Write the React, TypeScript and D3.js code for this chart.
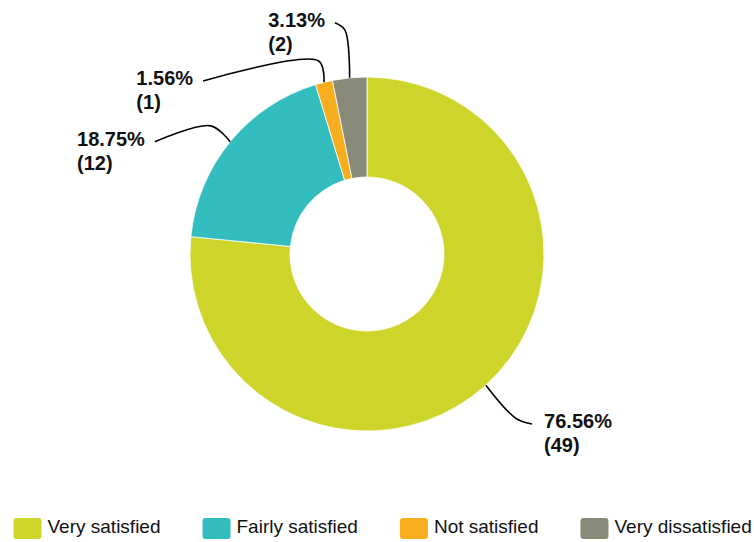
import { useEffect, useRef } from 'react';
import * as d3 from 'd3';

const categories = ['Very satisfied', 'Fairly satisfied', 'Not satisfied', 'Very dissatisfied'];
const counts = [49, 12, 1, 2];
const pctLabels = ['76.56%', '18.75%', '1.56%', '3.13%'];
const colors = ['#CDD52A', '#33BDBF', '#F6AE1F', '#8A8A79'];

// leader line layout: radial extension past the ring, then offset to the label end
const leaderExt = [45, 25, 22, 48];
const leaderEnd: [number, number][] = [
  [16, 5.5],
  [-56, 16],
  [-115.6, 20],
  [-10, -7.4],
];

const W = 754;
const H = 542;
const cx = 367;
const cy = 254;
const outerR = 177;
const innerR = 77;
const labelFont = "'Liberation Sans', Arial, sans-serif";

export default function App() {
  const svgRef = useRef<SVGSVGElement>(null);

  useEffect(() => {
    document.body.style.margin = '0';
    if (!svgRef.current) return;
    const svg = d3.select(svgRef.current);
    svg.selectAll('*').remove();

    const pie = d3.pie<number>().sort(null).value((d) => d);
    const arcs = pie(counts);
    const arc = d3.arc<d3.PieArcDatum<number>>().innerRadius(innerR).outerRadius(outerR);

    const g = svg.append('g').attr('transform', `translate(${cx},${cy})`);

    g.selectAll('path.slice')
      .data(arcs)
      .join('path')
      .attr('class', 'slice')
      .attr('d', arc)
      .attr('fill', (_, i) => colors[i])
      .attr('stroke', '#fff')
      .attr('stroke-width', 0.8);

    const polar = (a: number, r: number): [number, number] => [
      Math.sin(a) * r,
      -Math.cos(a) * r,
    ];

    const leader = d3.line().curve(d3.curveCatmullRom.alpha(0.5));

    arcs.forEach((a, i) => {
      const mid = (a.startAngle + a.endAngle) / 2;
      const p0 = polar(mid, outerR);
      const p1 = polar(mid, outerR + leaderExt[i]);
      const p2: [number, number] = [p1[0] + leaderEnd[i][0], p1[1] + leaderEnd[i][1]];

      g.append('path')
        .attr('d', leader([p0, p1, p2]))
        .attr('fill', 'none')
        .attr('stroke', '#000')
        .attr('stroke-width', 1.6);

      const right = leaderEnd[i][0] > 0;
      const t = g
        .append('text')
        .attr('font-family', labelFont)
        .attr('font-size', 20)
        .attr('font-weight', 'bold')
        .attr('fill', '#111');
      const l1 = t.append('tspan').attr('y', p2[1] + 4.5).text(pctLabels[i]);
      const l2 = t.append('tspan').attr('y', p2[1] + 28).text(`(${counts[i]})`);
      const w = (l1.node() as SVGTSpanElement).getComputedTextLength();
      const x = right ? p2[0] + 12 : p2[0] - 10 - w;
      l1.attr('x', x);
      l2.attr('x', x);
    });

    // legend
    const legend = svg.append('g');
    let lx = 13.5;
    categories.forEach((c, i) => {
      legend
        .append('rect')
        .attr('x', lx)
        .attr('y', 518)
        .attr('width', 28)
        .attr('height', 21)
        .attr('rx', 3)
        .attr('fill', colors[i]);
      const txt = legend
        .append('text')
        .attr('x', lx + 34)
        .attr('y', 533)
        .attr('font-family', labelFont)
        .attr('font-size', 19)
        .attr('fill', '#111')
        .text(c);
      const tw = (txt.node() as SVGTextElement).getComputedTextLength();
      lx += 34 + tw + 42;
    });
  }, []);

  return <svg ref={svgRef} width={W} height={H} style={{ display: 'block', background: '#fff' }} />;
}
